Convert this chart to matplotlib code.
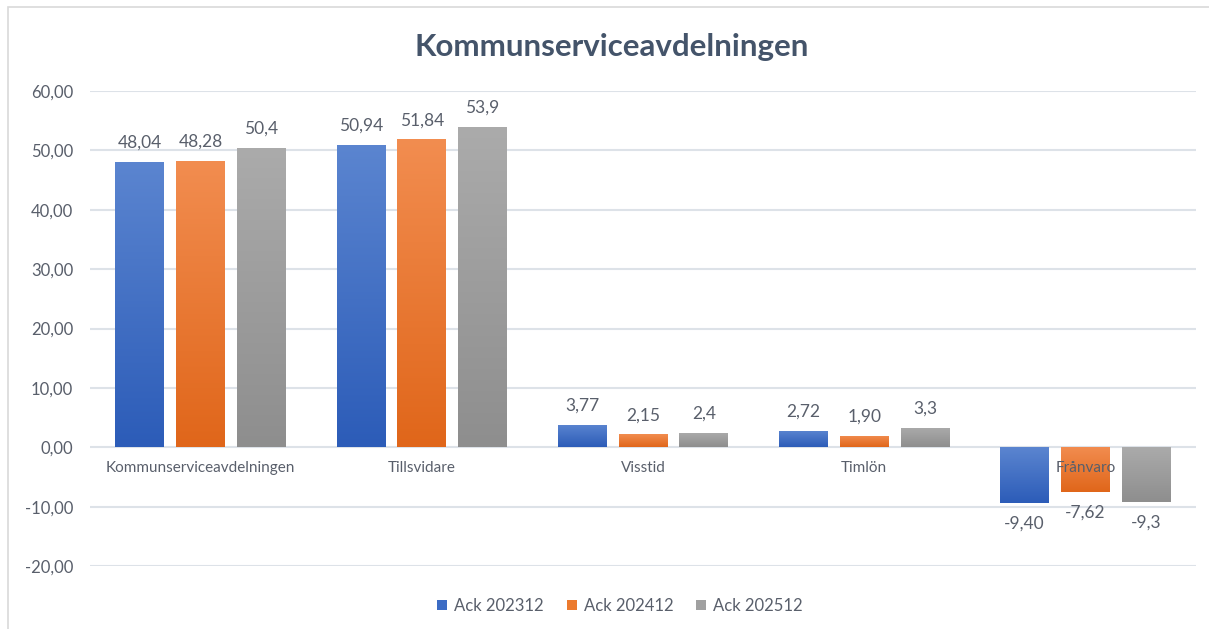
import matplotlib
matplotlib.use("Agg")
import matplotlib.pyplot as plt
import numpy as np
from matplotlib.colors import LinearSegmentedColormap
from matplotlib.patches import Rectangle, Patch

categories = ["Kommunserviceavdelningen", "Tillsvidare", "Visstid", "Timlön", "Frånvaro"]
series_names = ["Ack 202312", "Ack 202412", "Ack 202512"]
ack_202312 = [48.04, 50.94, 3.77, 2.72, -9.40]
ack_202412 = [48.28, 51.84, 2.15, 1.90, -7.62]
ack_202512 = [50.4, 53.9, 2.4, 3.3, -9.3]
labels_202312 = ["48,04", "50,94", "3,77", "2,72", "-9,40"]
labels_202412 = ["48,28", "51,84", "2,15", "1,90", "-7,62"]
labels_202512 = ["50,4", "53,9", "2,4", "3,3", "-9,3"]
yticks = [-20, -10, 0, 10, 20, 30, 40, 50, 60]
ytick_labels = ["-20,00", "-10,00", "0,00", "10,00", "20,00", "30,00", "40,00", "50,00", "60,00"]

series = [ack_202312, ack_202412, ack_202512]
series_labels = [labels_202312, labels_202412, labels_202512]
tops = ["#5B85D0", "#F28D50", "#ABABAB"]
bottoms = ["#2C5CB8", "#E0661A", "#8E8E8E"]
solid = ["#3C6CC4", "#EC7A2E", "#A0A0A0"]

txt = "#595F6B"
plt.rcParams["font.family"] = ["Lato", "DejaVu Sans"]

fig = plt.figure(figsize=(12.09, 6.29), dpi=100)
ax = fig.add_axes([90/1209, 1-566/629, (1196-90)/1209, (566-91)/629])

# chart border
fig.patches.append(Rectangle((8/1209, -0.1), 1.2, 1-7/629+0.1, transform=fig.transFigure,
                             fill=False, edgecolor="#D9D9D9", linewidth=1.2, zorder=0))

x = np.arange(len(categories))
w = 0.22
step = 0.275
grad = np.linspace(0, 1, 256).reshape(-1, 1)
for i, (vals, labs) in enumerate(zip(series, series_labels)):
    cmap = LinearSegmentedColormap.from_list(f"g{i}", [tops[i], bottoms[i]])
    bars = ax.bar(x + (i - 1) * step, vals, w, color="none", edgecolor="none", zorder=2)
    for b, v, lab in zip(bars, vals, labs):
        x0 = b.get_x()
        y0, y1 = (0, v) if v >= 0 else (v, 0)
        im = ax.imshow(grad, cmap=cmap, aspect="auto", extent=(x0, x0 + w, y0, y1),
                       origin="upper", zorder=2, interpolation="bilinear")
        im.set_clip_path(b)
        if v >= 0:
            ax.annotate(lab, (b.get_x() + w/2, v), xytext=(0, 8), textcoords="offset points",
                        ha="center", va="bottom", fontsize=12.5, color=txt, zorder=4)
        else:
            ax.annotate(lab, (b.get_x() + w/2, v), xytext=(0, -9), textcoords="offset points",
                        ha="center", va="top", fontsize=12.5, color=txt, zorder=4)

ax.set_xlim(-0.5, len(categories) - 0.5)
ax.set_ylim(-20, 60)
ax.set_yticks(yticks)
ax.set_yticklabels(ytick_labels)
ax.tick_params(axis="y", length=0, pad=12, labelsize=12, labelcolor=txt)
ax.set_xticks([])
ax.grid(axis="y", color="#DDE2E8", linewidth=1.5, zorder=0)
ax.set_axisbelow(True)
for s in ax.spines.values():
    s.set_visible(False)

for xi, c in zip(x, categories):
    ax.annotate(c, (xi, 0), xytext=(0, -15), textcoords="offset points",
                ha="center", va="center", fontsize=11, color=txt, zorder=5)

fig.text(612/1209, 1-47/629, "Kommunserviceavdelningen", ha="center", va="center",
         fontsize=22.5, fontweight="bold", color="#44546A")

handles = [Patch(facecolor=solid[i], edgecolor="none") for i in range(3)]
fig.legend(handles, series_names, loc="center", bbox_to_anchor=(620/1209, 1-606/629),
           ncol=3, frameon=False, fontsize=12, handlelength=0.6, handleheight=0.6,
           columnspacing=1.4, handletextpad=0.4, labelcolor=txt)

fig.savefig("out.png", dpi=100)
